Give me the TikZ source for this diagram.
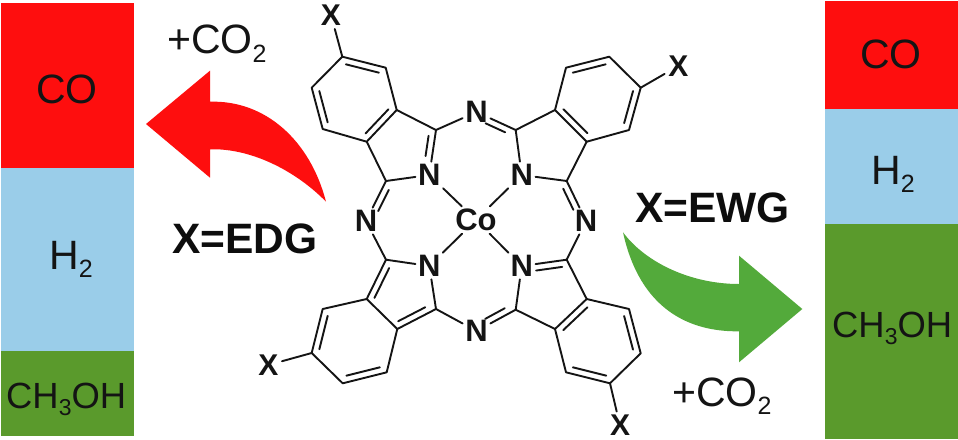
\documentclass[tikz,border=0pt]{standalone}
\usepackage{fontspec}
\setmainfont{Liberation Sans}
\usetikzlibrary{calc}
\definecolor{pred}{HTML}{FE0E0E}
\definecolor{pblue}{HTML}{9ACDE9}
\definecolor{pgreen}{HTML}{5A9A2C}
\definecolor{agreen}{HTML}{53AA3B}
\tikzset{
  bond/.style={line width=1.9pt,black!92,line cap=round,line join=round},
  atom/.style={font=\fontsize{31}{31}\selectfont\bfseries,inner sep=2.5pt,text=black!92},
  xatom/.style={font=\fontsize{30}{30}\selectfont\bfseries,inner sep=3.5pt,text=black!92},
  lab/.style={font=\fontsize{41}{41}\selectfont,inner sep=0pt,anchor=base west,text=black!92},
  labs/.style={font=\fontsize{36.4}{36.4}\selectfont,inner sep=0pt,anchor=base west,text=black!92},
  blab/.style={font=\fontsize{42.5}{42.5}\selectfont\bfseries,inner sep=0pt,anchor=base west,text=black!95},
}
\newcommand\innerbond[4]{\draw[bond] ($(#1)!#3!(#2)!6.5pt!90:(#2)$) -- ($(#1)!#4!(#2)!6.5pt!90:(#2)$);}
\newcommand\subtwo{\raisebox{-8.5pt}{\fontsize{25}{25}\selectfont 2}}
\newcommand\subthree{\raisebox{-7.5pt}{\fontsize{23}{23}\selectfont 3}}
\begin{document}
\begin{tikzpicture}[x=1pt,y=-1pt]
\useasboundingbox (0,0) rectangle (958,439);
\fill[white] (0,0) rectangle (958,439);
% panels
\fill[pred] (1,3) rectangle (133.5,167.5);
\fill[pblue] (1,167.5) rectangle (133.5,350.5);
\fill[pgreen] (1,350.5) rectangle (133.5,436);
\fill[pred] (825,1) rectangle (958,108.5);
\fill[pblue] (825,108.5) rectangle (958,223.7);
\fill[pgreen] (825,223.7) rectangle (958,439);
% panel labels
\node[lab] (lco) at (36,103) {CO};
\node[lab] (lh) at (49,269) {H\subtwo};
\node[labs] (lme) at (6,408) {CH\subthree OH};
\node[lab] (rco) at (860,68.5) {CO};
\node[lab] (rh) at (871,184) {H\subtwo};
\node[labs] (rme) at (832,337) {CH\subthree OH};
\node[lab] (lco2) at (167,53.5) {+CO\subtwo};
\node[lab] (rco2) at (672,406) {+CO\subtwo};
\node[blab] (edg) at (172,253) {X=EDG};
\node[blab] (ewg) at (635,222) {X=EWG};
% arrows
\fill[pred] (146,124) -- (210,70.7) -- (210,101.7)
  .. controls (265,100) and (310,140) .. (326,201.7)
  .. controls (295,170) and (250,148) .. (210,149.3)
  -- (210,177.7) -- cycle;
\fill[agreen] (802.3,309) -- (739,255.7) -- (739,284)
  .. controls (690,284) and (645,262) .. (623,232.3)
  .. controls (640,310) and (690,332) .. (739,331.3)
  -- (739,362.3) -- cycle;
% atoms with labels
\node[atom] (co) at (476,220) {Co};
\node[atom] (ntl) at (429.3,175) {N};
\node[atom] (ntr) at (521.7,175) {N};
\node[atom] (nbl) at (429.3,266) {N};
\node[atom] (nbr) at (521.7,266) {N};
\node[atom] (mt) at (476.5,112) {N};
\node[atom] (mb) at (476.5,331) {N};
\node[atom] (ml) at (366,221) {N};
\node[atom] (mr) at (586,221) {N};
\node[xatom] (xtl) at (331,15) {X};
\node[xatom] (xtr) at (678.3,66) {X};
\node[xatom] (xbl) at (268.3,365) {X};
\node[xatom,inner sep=1pt] (xbr) at (620,425.5) {X};
% top-left
\coordinate (a1) at (342.3,56.7); \coordinate (b1) at (385.7,67.7);
\coordinate (c1) at (396.7,110); \coordinate (d1) at (366.7,141.7);
\coordinate (e1) at (322.7,129); \coordinate (f1) at (311.7,87.7);
\coordinate (g1) at (436,130); \coordinate (h1) at (386,181);
% top-right
\coordinate (a2) at (640.7,87.7); \coordinate (b2) at (609.3,56.7);
\coordinate (c2) at (566,67.7); \coordinate (d2) at (555,110);
\coordinate (e2) at (586.7,141.7); \coordinate (f2) at (629,130);
\coordinate (g2) at (515.7,130); \coordinate (h2) at (566.7,181);
% bottom-left
\coordinate (a3) at (311.7,353); \coordinate (b3) at (322.7,309);
\coordinate (c3) at (366.7,299); \coordinate (d3) at (397.3,329);
\coordinate (e3) at (386.7,372.3); \coordinate (f3) at (342.7,383.3);
\coordinate (g3) at (436,309); \coordinate (h3) at (386,259.7);
% bottom-right
\coordinate (a4) at (610,383.3); \coordinate (b4) at (640.7,353.3);
\coordinate (c4) at (629,309); \coordinate (d4) at (586.7,299);
\coordinate (e4) at (555,329); \coordinate (f4) at (566,372.3);
\coordinate (g4) at (515.7,309.7); \coordinate (h4) at (566.7,259.7);
% rings and single bonds
\draw[bond] (a1)--(b1)--(c1)--(d1)--(e1)--(f1)--cycle;
\draw[bond] (a2)--(b2)--(c2)--(d2)--(e2)--(f2)--cycle;
\draw[bond] (a3)--(b3)--(c3)--(d3)--(e3)--(f3)--cycle;
\draw[bond] (a4)--(b4)--(c4)--(d4)--(e4)--(f4)--cycle;
\draw[bond] (c1)--(g1); \draw[bond] (d1)--(h1);
\draw[bond] (g1)--(ntl); \draw[bond] (h1)--(ntl);
\draw[bond] (d2)--(g2); \draw[bond] (e2)--(h2);
\draw[bond] (g2)--(ntr); \draw[bond] (h2)--(ntr);
\draw[bond] (c3)--(h3); \draw[bond] (d3)--(g3);
\draw[bond] (g3)--(nbl); \draw[bond] (h3)--(nbl);
\draw[bond] (e4)--(g4); \draw[bond] (d4)--(h4);
\draw[bond] (g4)--(nbr); \draw[bond] (h4)--(nbr);
% meso links
\draw[bond] (g1)--(mt); \draw[bond] (g2)--(mt);
\draw[bond] (h1)--(ml); \draw[bond] (h3)--(ml);
\draw[bond] (h2)--(mr); \draw[bond] (h4)--(mr);
\draw[bond] (g3)--(mb); \draw[bond] (g4)--(mb);
% substituents
\draw[bond] (a1)--(xtl); \draw[bond] (a2)--(xtr);
\draw[bond] (a3)--(xbl); \draw[bond,shorten >=2.5pt] (a4)--(xbr);
% metal bonds
\draw[bond] (co)--(ntl); \draw[bond] (co)--(ntr);
\draw[bond] (co)--(nbl); \draw[bond] (co)--(nbr);
% inner lines of double bonds
\innerbond{f1}{e1}{.12}{.88} \innerbond{d1}{c1}{.12}{.88} \innerbond{b1}{a1}{.12}{.88}
\innerbond{b2}{c2}{.12}{.88} \innerbond{d2}{e2}{.12}{.88} \innerbond{f2}{a2}{.12}{.88}
\innerbond{b3}{a3}{.12}{.88} \innerbond{f3}{e3}{.12}{.88}
\innerbond{d4}{e4}{.12}{.88} \innerbond{f4}{a4}{.12}{.88} \innerbond{b4}{c4}{.12}{.88}
\innerbond{ntl}{g1}{.4}{.85}
\innerbond{g2}{mt}{.2}{.7}
\innerbond{mr}{h2}{.35}{.88}
\innerbond{h1}{ml}{.15}{.68}
\innerbond{h3}{c3}{.14}{.9}
\innerbond{d3}{g3}{.1}{.8}
\innerbond{h4}{nbr}{.12}{.7}
\innerbond{mb}{g4}{.3}{.8}
\end{tikzpicture}
\end{document}
